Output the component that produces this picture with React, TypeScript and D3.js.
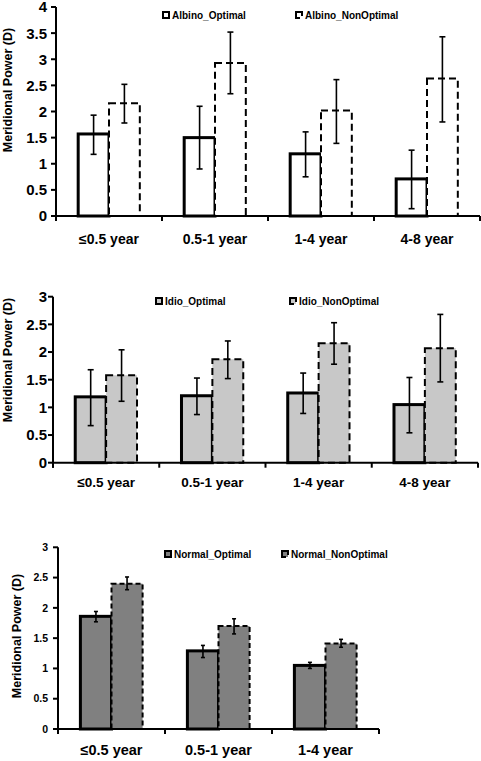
import React from "react";
import * as d3 from "d3";

// ---------- DATA ----------
const albinoCategories = ["≤0.5 year", "0.5-1 year", "1-4 year", "4-8 year"];
const albinoOptimal = [1.57, 1.5, 1.19, 0.71];
const albinoOptimalLow = [1.18, 0.9, 0.75, 0.14];
const albinoOptimalHigh = [1.93, 2.1, 1.61, 1.26];
const albinoNonOptimal = [2.16, 2.93, 2.02, 2.63];
const albinoNonOptimalLow = [1.78, 2.34, 1.39, 1.8];
const albinoNonOptimalHigh = [2.52, 3.52, 2.61, 3.43];
const albinoTicks = [0, 0.5, 1, 1.5, 2, 2.5, 3, 3.5, 4];

const idioCategories = ["≤0.5 year", "0.5-1 year", "1-4 year", "4-8 year"];
const idioOptimal = [1.19, 1.21, 1.26, 1.05];
const idioOptimalLow = [0.67, 0.87, 0.89, 0.54];
const idioOptimalHigh = [1.68, 1.53, 1.62, 1.54];
const idioNonOptimal = [1.58, 1.87, 2.16, 2.07];
const idioNonOptimalLow = [1.11, 1.52, 1.78, 1.46];
const idioNonOptimalHigh = [2.04, 2.2, 2.53, 2.68];
const idioTicks = [0, 0.5, 1, 1.5, 2, 2.5, 3];

const normalCategories = ["≤0.5 year", "0.5-1 year", "1-4 year"];
const normalOptimal = [1.86, 1.29, 1.05];
const normalOptimalLow = [1.77, 1.18, 1.0];
const normalOptimalHigh = [1.94, 1.38, 1.1];
const normalNonOptimal = [2.4, 1.7, 1.41];
const normalNonOptimalLow = [2.3, 1.57, 1.35];
const normalNonOptimalHigh = [2.51, 1.82, 1.48];
const normalTicks = [0, 0.5, 1, 1.5, 2, 2.5, 3];

const seriesKeys = ["Optimal", "NonOptimal"];
const FONT = "Arial, 'Liberation Sans', Helvetica, sans-serif";

type PanelProps = {
  prefix: string;
  cats: string[];
  opt: number[]; optLo: number[]; optHi: number[];
  non: number[]; nonLo: number[]; nonHi: number[];
  ticks: number[];
  yTop: number; yBottom: number; xLeft: number; xRight: number;
  fill: string;
  tickFont: number; tickGap: number;
  xLabelFont: number; xLabelOffset: number;
  titleX: number; titleY: number;
  legendY: number; legendOptX: number; legendNonX: number;
  capW: number; errW: number; dash: string;
};

function Panel(p: PanelProps) {
  const yMax = p.ticks[p.ticks.length - 1];
  const y = d3.scaleLinear().domain([0, yMax]).range([p.yBottom, p.yTop]);
  const x = d3.scaleBand<string>().domain(p.cats).range([p.xLeft, p.xRight]).paddingInner(0).paddingOuter(0);
  const xs = d3.scaleBand<string>().domain(seriesKeys).range([0, x.bandwidth()]).paddingInner(0).paddingOuter(0.72);
  const boundaries = p.cats.map((c) => x(c) as number).concat([p.xRight]);
  const series = [
    { key: "Optimal", v: p.opt, lo: p.optLo, hi: p.optHi, sw: 3, dash: undefined as string | undefined },
    { key: "NonOptimal", v: p.non, lo: p.nonLo, hi: p.nonHi, sw: 2, dash: p.dash },
  ];
  return (
    <g>
      {/* bars */}
      {series.map((s) =>
        p.cats.map((c, i) => {
          const bx = (x(c) as number) + (xs(s.key) as number);
          const bw = xs.bandwidth();
          return (
            <rect key={s.key + c} x={bx} y={y(s.v[i])} width={bw} height={p.yBottom - y(s.v[i])}
              fill={p.fill} stroke="#000" strokeWidth={s.sw} strokeDasharray={s.dash} />
          );
        })
      )}
      {/* error bars */}
      {series.map((s) =>
        p.cats.map((c, i) => {
          const cx = (x(c) as number) + (xs(s.key) as number) + xs.bandwidth() / 2;
          return (
            <g key={"e" + s.key + c} stroke="#000" strokeWidth={p.errW}>
              <line x1={cx} x2={cx} y1={y(s.lo[i])} y2={y(s.hi[i])} />
              <line x1={cx - p.capW / 2} x2={cx + p.capW / 2} y1={y(s.lo[i])} y2={y(s.lo[i])} />
              <line x1={cx - p.capW / 2} x2={cx + p.capW / 2} y1={y(s.hi[i])} y2={y(s.hi[i])} />
            </g>
          );
        })
      )}
      {/* y axis */}
      <line x1={p.xLeft} x2={p.xLeft} y1={p.yTop} y2={p.yBottom + 5} stroke="#000" strokeWidth={2} />
      {p.ticks.map((t) => (
        <g key={"yt" + t}>
          <line x1={p.xLeft - 5} x2={p.xLeft} y1={y(t)} y2={y(t)} stroke="#000" strokeWidth={2} />
          <text x={p.xLeft - p.tickGap} y={y(t)} dy="0.36em" textAnchor="end" fontSize={p.tickFont} fontWeight="bold" fontFamily={FONT}>{t}</text>
        </g>
      ))}
      {/* x axis */}
      <line x1={p.xLeft} x2={p.xRight} y1={p.yBottom} y2={p.yBottom} stroke="#000" strokeWidth={2} />
      {boundaries.map((b, i) => (
        <line key={"xt" + i} x1={b} x2={b} y1={p.yBottom} y2={p.yBottom + 5} stroke="#000" strokeWidth={2} />
      ))}
      {p.cats.map((c) => (
        <text key={"xl" + c} x={(x(c) as number) + x.bandwidth() / 2} y={p.yBottom + p.xLabelOffset} textAnchor="middle"
          fontSize={p.xLabelFont} fontWeight="bold" fontFamily={FONT}>{c}</text>
      ))}
      {/* axis title */}
      <text transform={`translate(${p.titleX},${p.titleY}) rotate(-90)`} textAnchor="middle" fontSize={12.5} fontWeight="bold" fontFamily={FONT}>
        Meridional Power (D)
      </text>
      {/* legend */}
      <rect x={p.legendOptX} y={p.legendY - 3} width={6} height={6} fill={p.fill} stroke="#000" strokeWidth={2} />
      <text x={p.legendOptX + 9} y={p.legendY} dy="0.35em" fontSize={10} fontWeight="bold" fontFamily={FONT}>{p.prefix}_Optimal</text>
      <rect x={p.legendNonX} y={p.legendY - 3} width={6} height={6} fill={p.fill} stroke="#000" strokeWidth={2} strokeDasharray="10,4" />
      <text x={p.legendNonX + 9} y={p.legendY} dy="0.35em" fontSize={10} fontWeight="bold" fontFamily={FONT}>{p.prefix}_NonOptimal</text>
    </g>
  );
}

export default function App() {
  return (
    <svg width={481} height={761} style={{ position: "absolute", left: 0, top: 0, background: "#fff" }}>
      <rect width={481} height={761} fill="#fff" />
      <Panel prefix="Albino" cats={albinoCategories}
        opt={albinoOptimal} optLo={albinoOptimalLow} optHi={albinoOptimalHigh}
        non={albinoNonOptimal} nonLo={albinoNonOptimalLow} nonHi={albinoNonOptimalHigh}
        ticks={albinoTicks} yTop={7} yBottom={216} xLeft={56} xRight={480} fill="#ffffff"
        tickFont={15} tickGap={9} xLabelFont={14} xLabelOffset={28} titleX={12} titleY={90}
        legendY={15} legendOptX={163} legendNonX={296} capW={6} errW={1.6} dash="7,4" />
      <Panel prefix="Idio" cats={idioCategories}
        opt={idioOptimal} optLo={idioOptimalLow} optHi={idioOptimalHigh}
        non={idioNonOptimal} nonLo={idioNonOptimalLow} nonHi={idioNonOptimalHigh}
        ticks={idioTicks} yTop={296.7} yBottom={462.7} xLeft={53} xRight={478} fill="#c8c8c8"
        tickFont={15} tickGap={6} xLabelFont={13.5} xLabelOffset={24} titleX={12} titleY={360}
        legendY={301} legendOptX={156} legendNonX={290} capW={6} errW={1.6} dash="7,4" />
      <Panel prefix="Normal" cats={normalCategories}
        opt={normalOptimal} optLo={normalOptimalLow} optHi={normalOptimalHigh}
        non={normalNonOptimal} nonLo={normalNonOptimalLow} nonHi={normalNonOptimalHigh}
        ticks={normalTicks} yTop={547.3} yBottom={729} xLeft={58} xRight={379} fill="#808080"
        tickFont={10.5} tickGap={10} xLabelFont={14.5} xLabelOffset={26} titleX={21} titleY={636}
        legendY={554} legendOptX={165} legendNonX={282} capW={4} errW={1.6} dash="5,3" />
    </svg>
  );
}
